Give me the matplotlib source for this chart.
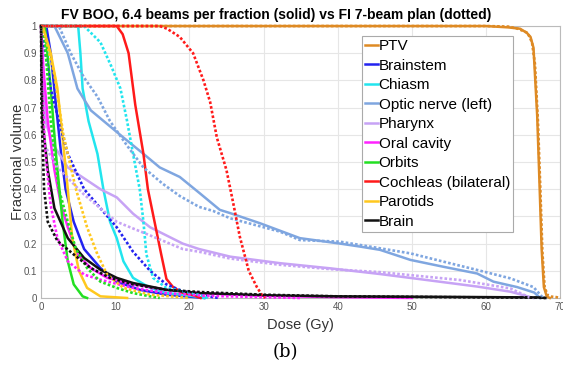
import matplotlib
matplotlib.use("Agg")
import matplotlib.pyplot as plt

# Dose-volume histograms, values.
# Each curve: (dose in Gy, fractional volume). BOO = solid, FI = dotted.
structures = ["PTV", "Brainstem", "Chiasm", "Optic nerve (left)", "Pharynx",
              "Oral cavity", "Orbits", "Cochleas (bilateral)", "Parotids", "Brain"]
colors = ["#DE8A24", "#2323F0", "#22E5EE", "#7FA6E0", "#C7A3F5",
          "#FF22FF", "#22E022", "#FF1A1A", "#FFC81E", "#111111"]

ptv_boo = ([0, 60, 63, 64.6, 65.5, 66, 66.4, 66.9, 67.2, 67.5, 67.8, 68.2, 68.6],
           [1, 1, 0.995, 0.99, 0.975, 0.96, 0.92, 0.67, 0.43, 0.18, 0.04, 0.005, 0])
ptv_fi = ([0, 60, 63, 64.3, 65.6, 66.2, 66.6, 67.0, 67.3, 67.6, 67.9, 68.3, 68.8, 69.5, 70],
          [1, 1, 0.998, 0.99, 0.975, 0.94, 0.86, 0.65, 0.42, 0.17, 0.04, 0.01, 0.005, 0.003, 0])

brainstem_boo = ([0, 0.7, 1.3, 2, 2.7, 3.3, 4.4, 5.8, 8, 10.2, 13.3, 16.9, 20, 22],
                 [1, 1, 0.9, 0.71, 0.53, 0.40, 0.28, 0.18, 0.11, 0.06, 0.03, 0.012, 0.005, 0])
brainstem_fi = ([0, 0.3, 1.3, 2.4, 3.6, 5.8, 8, 10.2, 12.4, 14.7, 16.9, 19.1, 21.5, 24],
                [1, 0.95, 0.77, 0.65, 0.53, 0.40, 0.33, 0.26, 0.17, 0.10, 0.05, 0.025, 0.01, 0])

chiasm_boo = ([0, 5, 5.3, 5.6, 6.4, 7.6, 8.4, 9.3, 10.2, 11.1, 12.4, 14.7, 16.9, 19.1, 21, 22],
              [1, 1, 0.9, 0.77, 0.65, 0.53, 0.40, 0.28, 0.22, 0.135, 0.074, 0.037, 0.018, 0.012, 0.005, 0])
chiasm_fi = ([0, 5.8, 8, 9.5, 10.7, 11.6, 12.4, 13.3, 13.8, 14.2, 15.1, 16.9, 19.1, 21.3, 22.5],
             [1, 1, 0.94, 0.85, 0.77, 0.65, 0.53, 0.40, 0.28, 0.16, 0.074, 0.037, 0.025, 0.012, 0])

optic_boo = ([0, 1.8, 3.6, 4.9, 6.7, 8.9, 11.1, 13.8, 16, 18.7, 21.4, 24.1, 25.5, 29.5, 34.9,
              40.3, 43, 45.7, 49.8, 54.2, 58.8, 61, 64.2, 66.5, 67.3],
             [1, 1, 0.90, 0.77, 0.69, 0.64, 0.59, 0.53, 0.48, 0.445, 0.385, 0.324, 0.312, 0.275, 0.22,
              0.20, 0.189, 0.177, 0.14, 0.115, 0.09, 0.06, 0.04, 0.02, 0])
optic_fi = ([0, 2.4, 4, 5.8, 7.6, 9.3, 11.6, 13.8, 16.4, 18.7, 21.3, 23.2, 25.5, 32.2, 34.9,
             40.3, 43, 49.8, 54.2, 58.8, 63.3, 66.4, 67.7],
            [1, 1, 0.9, 0.81, 0.74, 0.65, 0.56, 0.48, 0.42, 0.375, 0.335, 0.32, 0.293, 0.244, 0.213,
             0.207, 0.195, 0.164, 0.134, 0.103, 0.072, 0.04, 0])

pharynx_boo = ([0, 0.2, 0.6, 1.5, 3.6, 5.8, 8, 10.2, 12.4, 14.7, 16.9, 19.1, 21.3, 25.5, 32.2,
                39, 45.7, 52, 58.8, 63.3, 66.4],
               [1, 0.8, 0.65, 0.57, 0.48, 0.44, 0.40, 0.37, 0.31, 0.26, 0.23, 0.20, 0.18, 0.152, 0.128,
                0.109, 0.088, 0.066, 0.042, 0.023, 0])
pharynx_fi = ([0, 0.2, 0.5, 2.2, 5.8, 10.2, 14.7, 19.1, 21.3, 25.5, 32.2, 39, 45.7, 56.5, 63.3, 66],
              [1, 0.75, 0.56, 0.48, 0.38, 0.28, 0.23, 0.18, 0.17, 0.145, 0.122, 0.106, 0.095, 0.066, 0.035, 0])

oral_boo = ([0, 0.3, 0.9, 1.8, 2.7, 3.6, 4.9, 6.7, 8.9, 12.4, 16.9, 21.3, 30, 40, 50],
            [1, 0.85, 0.65, 0.47, 0.34, 0.26, 0.16, 0.11, 0.074, 0.05, 0.03, 0.018, 0.008, 0.003, 0])
oral_fi = ([0, 0.2, 0.5, 1.3, 2.2, 3.6, 5.8, 8, 12.4, 16.9, 22, 30, 35],
           [1, 0.75, 0.55, 0.34, 0.22, 0.135, 0.086, 0.067, 0.037, 0.018, 0.008, 0.003, 0])

orbits_boo = ([0, 0.5, 1.3, 2, 2.9, 3.6, 4.4, 5.6, 6.2],
              [1, 1, 0.77, 0.53, 0.28, 0.135, 0.05, 0.006, 0])
orbits_fi = ([0, 0.5, 1.3, 2.4, 3.6, 4.7, 6.2, 8, 10.2, 12.4, 14.7, 16],
             [1, 0.95, 0.65, 0.40, 0.28, 0.18, 0.11, 0.06, 0.037, 0.018, 0.006, 0])

cochlea_boo = ([0, 10.2, 11.0, 11.8, 12.7, 13.8, 14.4, 15.3, 16.2, 16.9, 17.8, 19.0, 20.5, 21.5],
               [1, 1, 0.97, 0.9, 0.71, 0.53, 0.40, 0.28, 0.16, 0.07, 0.04, 0.02, 0.01, 0])
cochlea_fi = ([0, 16.0, 17.0, 18.7, 20.5, 21.9, 22.8, 23.7, 25.0, 25.9, 26.8, 28.0, 29.1, 29.8, 30.2],
              [1, 1, 0.99, 0.96, 0.90, 0.80, 0.72, 0.59, 0.47, 0.35, 0.225, 0.10, 0.04, 0.01, 0])

parotid_boo = ([0, 0.2, 1.3, 2.2, 2.9, 3.6, 4.2, 5.1, 6.2, 8, 11.6],
               [1, 1, 0.9, 0.77, 0.59, 0.40, 0.22, 0.10, 0.037, 0.006, 0])
parotid_fi = ([0, 0.5, 1.8, 3.0, 4.7, 6.2, 7.6, 8.9, 11.1, 14.7, 20],
              [1, 0.97, 0.82, 0.60, 0.40, 0.26, 0.16, 0.086, 0.037, 0.012, 0])

brain_boo = ([0, 0.05, 0.2, 0.9, 1.8, 3.6, 5.8, 8, 10.2, 12.4, 16.9, 21.3, 30, 40, 55, 67, 68],
             [1, 0.85, 0.65, 0.47, 0.33, 0.22, 0.147, 0.104, 0.074, 0.055, 0.03, 0.018, 0.01, 0.006, 0.004, 0.002, 0])
brain_fi = ([0, 0.05, 0.1, 0.4, 0.9, 2.2, 4.4, 6.7, 9.3, 12.4, 16.9, 21.3, 30, 40, 55, 67, 68],
            [1, 0.7, 0.65, 0.40, 0.28, 0.21, 0.16, 0.11, 0.074, 0.05, 0.03, 0.022, 0.012, 0.006, 0.003, 0.001, 0])

boo_curves = [ptv_boo, brainstem_boo, chiasm_boo, optic_boo, pharynx_boo,
              oral_boo, orbits_boo, cochlea_boo, parotid_boo, brain_boo]
fi_curves = [ptv_fi, brainstem_fi, chiasm_fi, optic_fi, pharynx_fi,
             oral_fi, orbits_fi, cochlea_fi, parotid_fi, brain_fi]

plt.rcParams['font.family'] = ['Liberation Sans', 'DejaVu Sans']

fig = plt.figure(figsize=(5.63, 3.72), dpi=100)
ax = fig.add_axes([0.073, 0.199, 0.922, 0.731])

for name, col, (d, v) in zip(structures, colors, boo_curves):
    ax.plot(d, v, color=col, lw=1.8, label=name, clip_on=False, zorder=3)
for col, (d, v) in zip(colors, fi_curves):
    ax.plot(d, v, color=col, lw=1.9, ls=(0, (1, 0.8)), clip_on=False, zorder=3)

ax.set_xlim(0, 70)
ax.set_ylim(0, 1)
ax.set_xticks(range(0, 71, 10))
ax.set_yticks([i / 10 for i in range(11)])
ax.set_yticklabels(["0", "0.1", "0.2", "0.3", "0.4", "0.5", "0.6", "0.7", "0.8", "0.9", "1"])
ax.tick_params(labelsize=7, colors="#555555", length=0, pad=3)
ax.grid(True, color="#E6E6E6", lw=0.8)
ax.set_axisbelow(True)
for s in ax.spines.values():
    s.set_color("#BBBBBB")
    s.set_linewidth(0.8)

ax.set_xlabel("Dose (Gy)", fontsize=10.5, color="#333333", labelpad=4)
ax.set_ylabel("Fractional volume", fontsize=10.5, color="#333333", labelpad=-1)
ax.set_title("FV BOO, 6.4 beams per fraction (solid) vs FI 7-beam plan (dotted)",
             fontsize=10, fontweight="bold", pad=5, x=0.453)

leg = ax.legend(loc="upper right", bbox_to_anchor=(0.909, 0.963), fontsize=11,
                handlelength=0.85, handletextpad=0.05, labelspacing=0.36,
                borderpad=0.2, borderaxespad=0, fancybox=False, framealpha=1,
                edgecolor="#AAAAAA")
leg.get_frame().set_linewidth(0.8)

fig.text(0.506, 0.053, "(b)", fontsize=13, family="DejaVu Serif", ha="center", va="center")

fig.savefig("out.png", dpi=100)
